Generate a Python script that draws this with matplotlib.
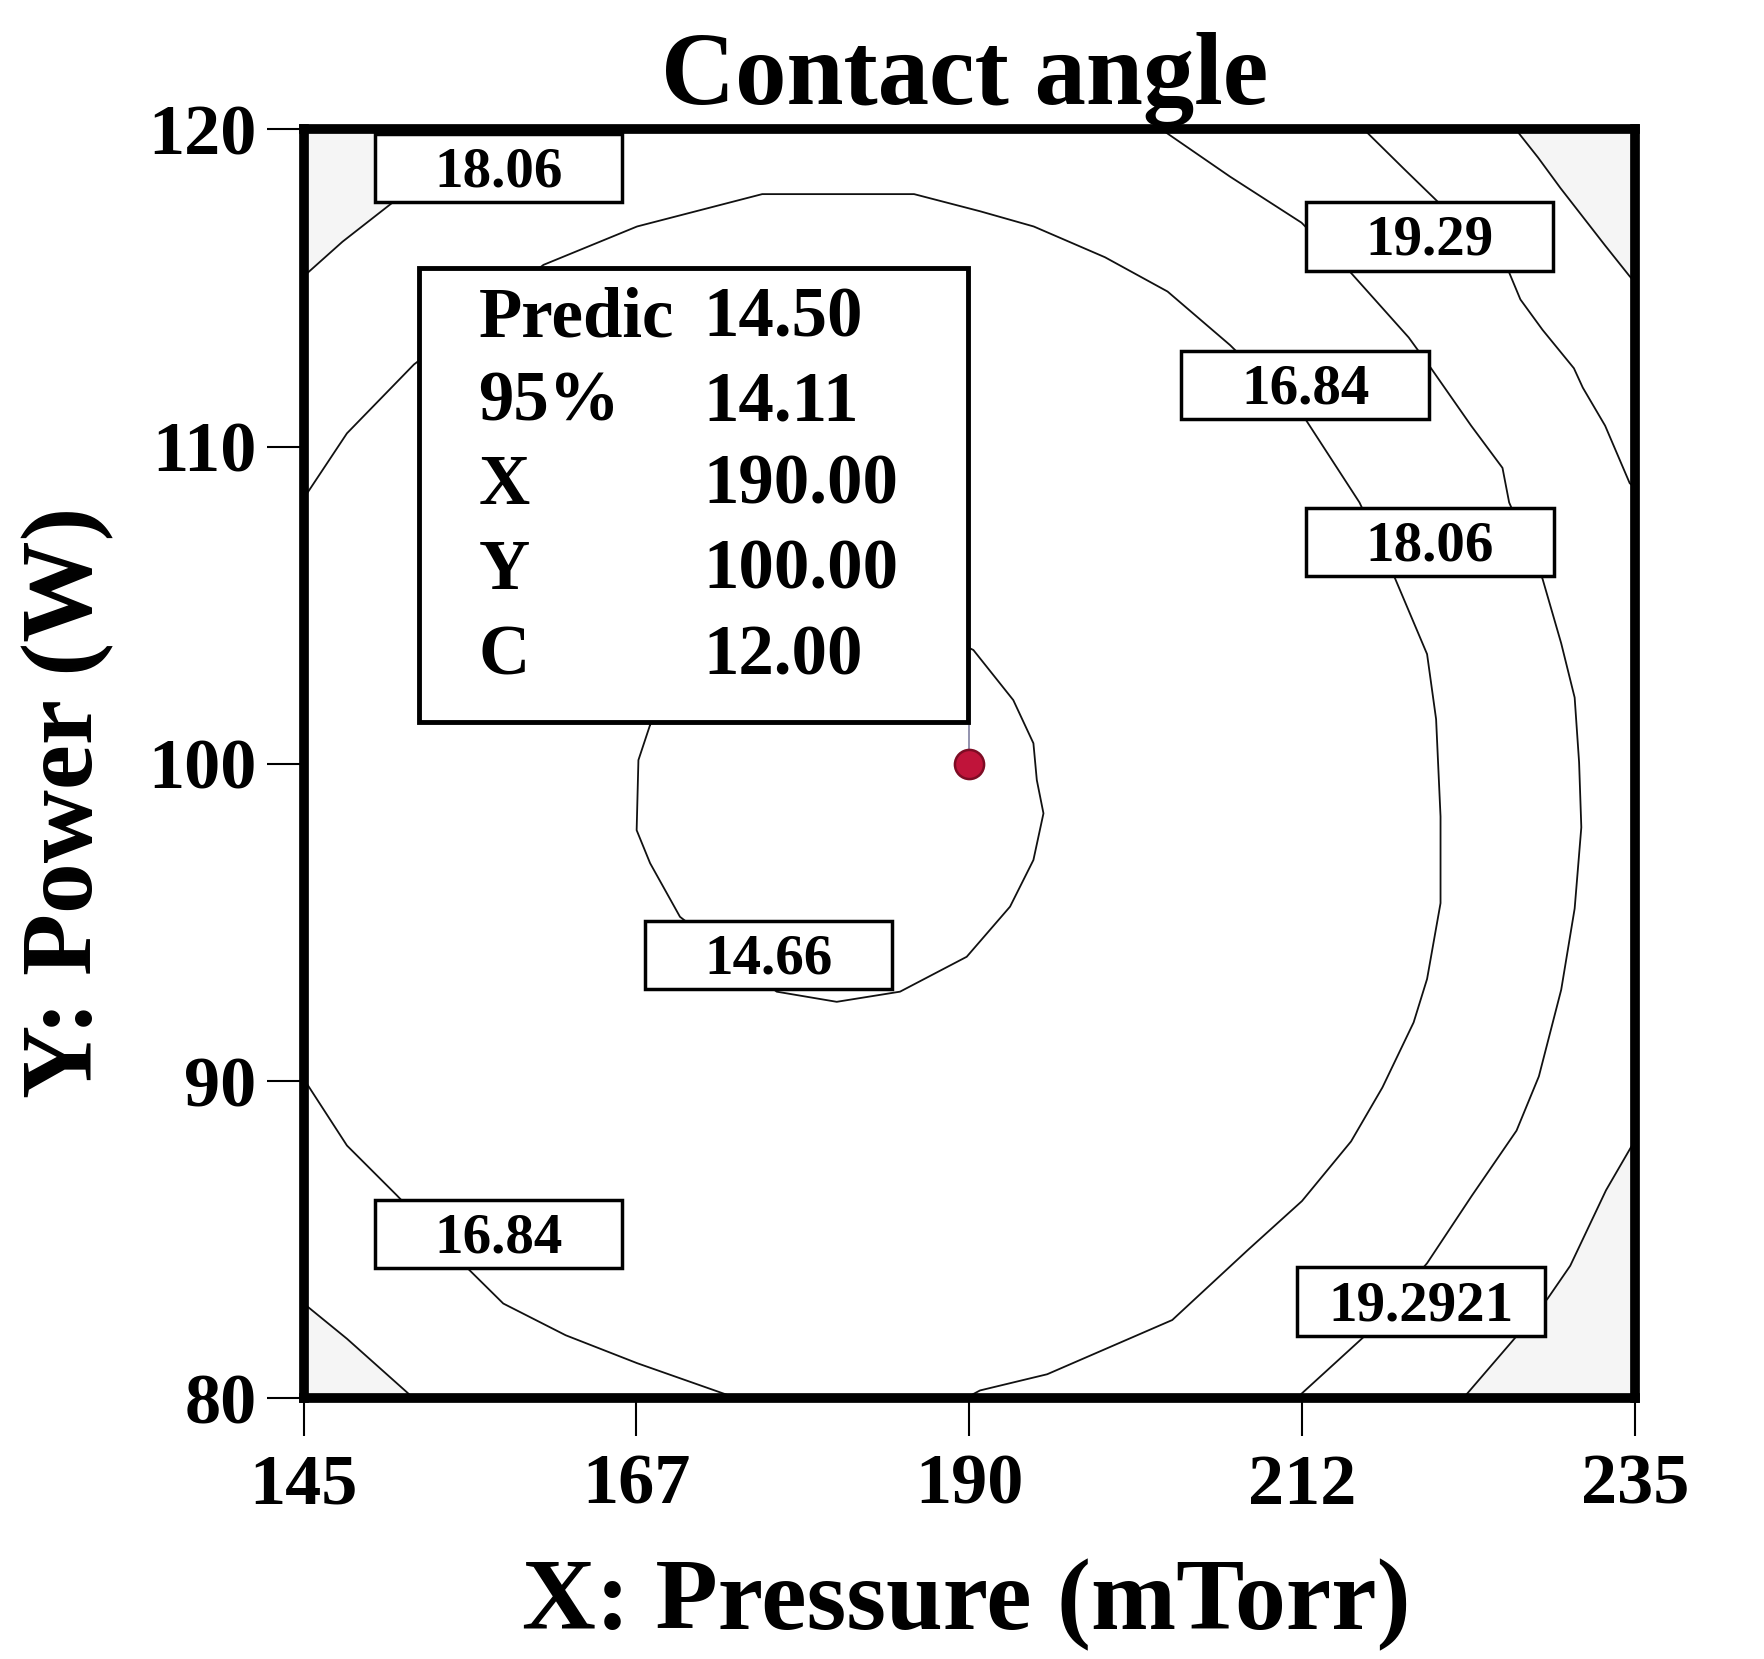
import matplotlib
matplotlib.use("Agg")
import matplotlib.pyplot as plt
from matplotlib.patches import Rectangle

# contour lines (X: pressure, Y: power)
c1466_x = [168.42, 167.63, 167.51, 168.42, 170.44, 176.98, 181.04, 185.32, 189.83, 192.76, 194.34,
           195.02, 194.57, 194.34, 192.98, 190.28, 187.6, 181.2, 174.7, 170.1, 168.42]
c1466_y = [101.23, 100.12, 97.91, 96.87, 95.18, 92.82, 92.50, 92.82, 93.92, 95.50, 96.97,
           98.44, 99.49, 100.65, 102.01, 103.59, 104.2, 104.5, 104.0, 102.6, 101.23]

c1684_x = [145.0, 147.92, 152.45, 161.21, 167.54, 176.00, 186.27, 190.73, 194.36, 199.18, 203.41,
           207.64, 212.77, 216.39, 218.81, 220.96, 221.57, 221.87, 221.87, 220.96, 220.05, 217.94,
           215.82, 212.50, 208.87, 203.73, 195.27, 190.73, 189.73]
c1684_y = [108.37, 110.42, 112.59, 115.73, 116.94, 117.96, 117.96, 117.42, 116.94, 115.97, 114.89,
           113.20, 110.84, 108.24, 105.83, 103.46, 101.41, 98.34, 95.61, 93.22, 91.85, 89.80,
           88.10, 86.22, 84.69, 82.47, 80.76, 80.25, 80.0]

c1684_low_x = [145.0, 147.92, 151.25, 156.08, 158.49, 162.71, 167.54, 173.58, 174.29]
c1684_low_y = [90.07, 87.97, 86.42, 84.10, 82.99, 81.99, 81.11, 80.12, 80.0]

c1806_tl_x = [145.0, 147.62, 150.94, 153.37]
c1806_tl_y = [115.37, 116.46, 117.67, 120.0]

c1806_r_x = [203.0, 207.64, 212.47, 215.79, 219.72, 221.23, 223.94, 226.06, 226.51, 228.77, 230.03,
             230.94, 231.24, 231.39, 230.94, 230.03, 228.52, 227.01, 223.99, 220.96, 216.73, 212.50, 212.18]
c1806_r_y = [120.0, 118.51, 117.06, 115.49, 113.44, 112.47, 110.66, 109.33, 108.24, 105.83, 103.80,
             102.09, 100.05, 98.0, 95.44, 92.88, 90.15, 88.44, 86.39, 84.26, 81.96, 80.16, 80.0]

c1806_bl_x = [145.0, 147.92, 152.15, 152.30]
c1806_bl_y = [82.99, 81.88, 80.12, 80.0]

c1929_tr_x = [216.69, 219.41, 221.53, 226.51, 227.27, 228.77, 230.89, 231.49, 233.00, 234.66, 235.0]
c1929_tr_y = [120.0, 118.75, 117.79, 115.49, 114.64, 113.68, 112.47, 111.86, 110.66, 108.85, 108.7]

c1929_br_x = [235.0, 233.06, 230.64, 229.12, 227.01, 223.69, 223.36]
c1929_br_y = [88.12, 86.56, 84.18, 83.15, 81.96, 80.16, 80.0]

outer_x = [226.96, 228.47, 229.98, 233.0, 234.66, 235.0]
outer_y = [120.0, 119.11, 118.15, 116.34, 115.37, 115.2]

label_text = ["18.06", "19.29", "16.84", "18.06", "14.66", "16.84", "19.2921"]
label_x = [158.16, 221.12, 212.71, 221.16, 176.42, 158.16, 220.55]
label_y = [118.79, 116.63, 111.95, 106.99, 93.97, 85.18, 83.05]

info_names = ["Predic", "95%", "X", "Y", "C"]
info_vals = ["14.50", "14.11", "190.00", "100.00", "12.00"]

point_x = 190.0
point_y = 100.0

x_ticks = [145, 167.5, 190, 212.5, 235]
x_ticklabels = ["145", "167", "190", "212", "235"]
y_ticks = [80, 90, 100, 110, 120]

plt.rcParams["font.family"] = ["Liberation Serif", "DejaVu Serif"]
plt.rcParams["font.weight"] = "bold"

fig = plt.figure(figsize=(17.64, 16.59), dpi=100)
ax = fig.add_axes([0.1722, 0.1571, 0.7545, 0.7649])

# faint grey in the corners
shade = "#f5f5f5"
ax.fill(c1806_tl_x + [145.0], c1806_tl_y + [120.0], color=shade, lw=0, zorder=1)
ax.fill(c1806_bl_x + [145.0], c1806_bl_y + [80.0], color=shade, lw=0, zorder=1)
ax.fill(outer_x + [235.0], outer_y + [120.0], color=shade, lw=0, zorder=1)
ax.fill(c1929_br_x + [235.0], c1929_br_y + [80.0], color=shade, lw=0, zorder=1)

for xs, ys in [(c1466_x, c1466_y), (c1684_x, c1684_y), (c1684_low_x, c1684_low_y),
               (c1806_tl_x, c1806_tl_y), (c1806_r_x, c1806_r_y), (c1806_bl_x, c1806_bl_y),
               (c1929_tr_x, c1929_tr_y), (c1929_br_x, c1929_br_y), (outer_x, outer_y)]:
    ax.plot(xs, ys, color="#111111", lw=1.3, zorder=2)

# contour labels
box_w, box_h = 16.74, 2.16
for t, x, y in zip(label_text, label_x, label_y):
    ax.add_patch(Rectangle((x - box_w / 2, y - box_h / 2), box_w, box_h,
                           fc="white", ec="black", lw=2.5, zorder=4))
    ax.text(x, y - 0.14, t, ha="center", va="center", fontsize=41, zorder=5)

# prediction flag
ax.plot([point_x, point_x], [point_y, 101.31], color="#8a8aa8", lw=1.3, zorder=3)
ax.plot([point_x], [point_y], "o", ms=21, mfc="#c0143a", mec="#7d0c24", mew=1.8, zorder=3)

ax.add_patch(Rectangle((152.76, 101.31), 37.13, 14.33, fc="white", ec="black", lw=3.5, zorder=6))
row_y = [114.18, 111.52, 108.90, 106.22, 103.53]
for name, val, ry in zip(info_names, info_vals, row_y):
    ax.text(156.82, ry - 0.15, name, ha="left", va="center", fontsize=51, zorder=7)
    ax.text(172.05, ry - 0.15, val, ha="left", va="center", fontsize=51, zorder=7)

ax.set_xlim(145, 235)
ax.set_ylim(80, 120)
ax.set_xticks(x_ticks)
ax.set_xticklabels(x_ticklabels)
ax.set_yticks(y_ticks)
ax.tick_params(axis="both", direction="out", length=27, width=1.5, labelsize=52)
ax.tick_params(axis="x", pad=13)
ax.tick_params(axis="y", pad=7)
for s in ax.spines.values():
    s.set_linewidth(7)

fig.text(0.547, 0.9376, "Contact angle", ha="center", va="baseline", fontsize=74)
fig.text(0.548, 0.0181, "X: Pressure (mTorr)", ha="center", va="baseline", fontsize=73.5)
fig.text(0.0383, 1 - 802 / 1659, "Y: Power (W)", rotation=90, ha="center", va="center", fontsize=73)

fig.savefig("out.png", dpi=100)
